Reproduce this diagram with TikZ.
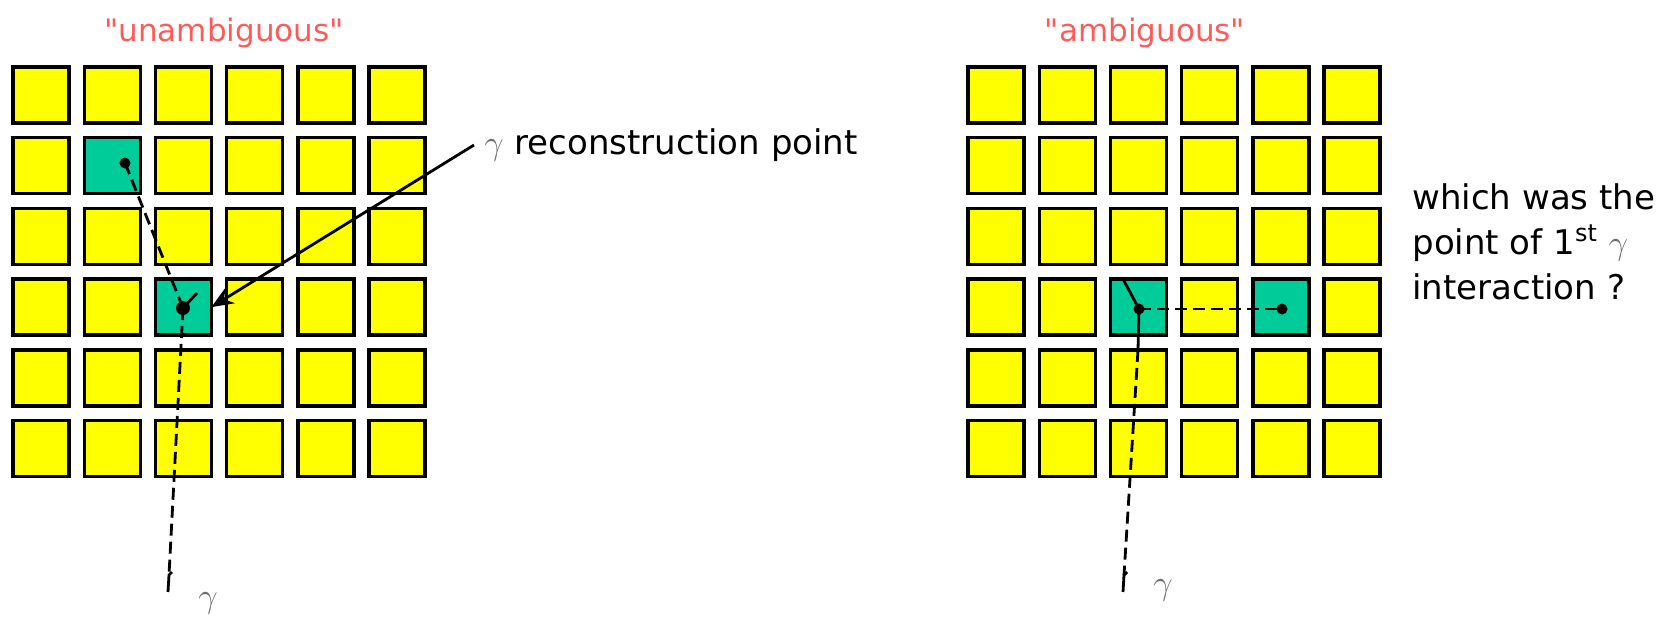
\documentclass[tikz,border=0pt]{standalone}
\usepackage{fontspec}
\setmainfont{DejaVu Sans}
% a copy of the family without TeX ligature mapping, so " stays a straight quote
\newfontfamily\titlefont{DejaVu Sans}
\usetikzlibrary{arrows.meta}
\definecolor{cellyellow}{RGB}{255,255,0}
\definecolor{cellgreen}{RGB}{0,204,153}
\definecolor{titlered}{RGB}{255,90,90}
\definecolor{gammagray}{RGB}{110,110,110}
\begin{document}
\begin{tikzpicture}[x=0.5pt,y=-0.5pt,
  cell/.style={draw=black,line width=1.7pt,fill=cellyellow,minimum size=28pt,inner sep=0pt,outer sep=0pt},
  hit/.style={cell,fill=cellgreen},
  dot/.style={circle,fill=black,inner sep=0pt,minimum size=5.5pt},
  track/.style={line width=1.4pt,dash pattern=on 6pt off 3pt},
  solidtrack/.style={line width=1.4pt},
  title/.style={text=titlered,font=\titlefont\fontsize{15.5}{18}\selectfont,inner sep=0pt},
  caption/.style={font=\fontsize{17}{22.5}\selectfont,inner sep=0pt},
  photon/.style={text=gammagray,font=\fontsize{16}{18}\selectfont,inner sep=0pt}
]
\useasboundingbox (0,0) rectangle (1670,617);

% two 6x6 calorimeter grids
\foreach \r in {0,...,5} {
  \foreach \c in {0,...,5} {
    \node[cell] (L-\r-\c) at ({41+71.2*\c},{95+70.7*\r}) {};
    \node[cell] (R-\r-\c) at ({996+71.2*\c},{95+70.7*\r}) {};
  }
}
% cells with a signal
\node[hit] (Lhit1) at (L-1-1) {};
\node[hit] (Lhit2) at (L-3-2) {};
\node[hit] (Rhit1) at (R-3-2) {};
\node[hit] (Rhit2) at (R-3-4) {};

% titles
\node[title] (t1) at (224,33) {"unambiguous"};
\node[title] (t2) at (1145,33) {"ambiguous"};

% left grid: conversion and scattering points
\node[dot] (Lconv) at (125,163) {};
\node[dot,minimum size=7pt] (Lvtx) at (183,308) {};
\coordinate (Lin) at (169,575);
\coordinate (Lend) at (168,592);
\coordinate (Lstub) at (197,293);
\draw[track] (Lconv.center) -- (Lvtx.center);
\draw[solidtrack] (Lvtx.center) -- (Lstub);
\draw[track] (Lvtx.center) -- (Lin);
\draw[solidtrack] (Lend) -- (Lin) -- ++(3,-3);
\node[photon] (g1) at (208,603) {$\gamma$};

% reconstruction label with its arrow
\node[caption,anchor=west] (reco) at (484,145) {{\color{gammagray}$\gamma$} reconstruction point};
\draw[solidtrack,-{Stealth[length=11pt,width=9pt]}] ([xshift=-5pt]reco.west) -- (Lhit2.east);

% right grid: two candidate interaction points
\node[dot] (Rdot1) at (1139,309) {};
\node[dot] (Rdot2) at (1282,309) {};
\coordinate (Rtop) at (1123,279);
\coordinate (Rin) at (1124,575);
\coordinate (Rend) at (1123,592);
\draw[solidtrack] (Rtop) -- (Rdot1.center);
\draw[track] (Rdot1.center) -- (Rdot2.center);
\draw[solidtrack] (Rdot1.center) -- (1138,350);
\draw[track] (1138,350) -- (Rin);
\draw[solidtrack] (Rend) -- (Rin) -- ++(3,-3);
\node[photon] (g2) at (1163,590) {$\gamma$};

% question text
\node[caption,anchor=north west,align=left] (question) at (1412,183)
  {which was the\\ point of 1\textsuperscript{st} {\color{gammagray}$\gamma$}\\ interaction ?};
\end{tikzpicture}
\end{document}
